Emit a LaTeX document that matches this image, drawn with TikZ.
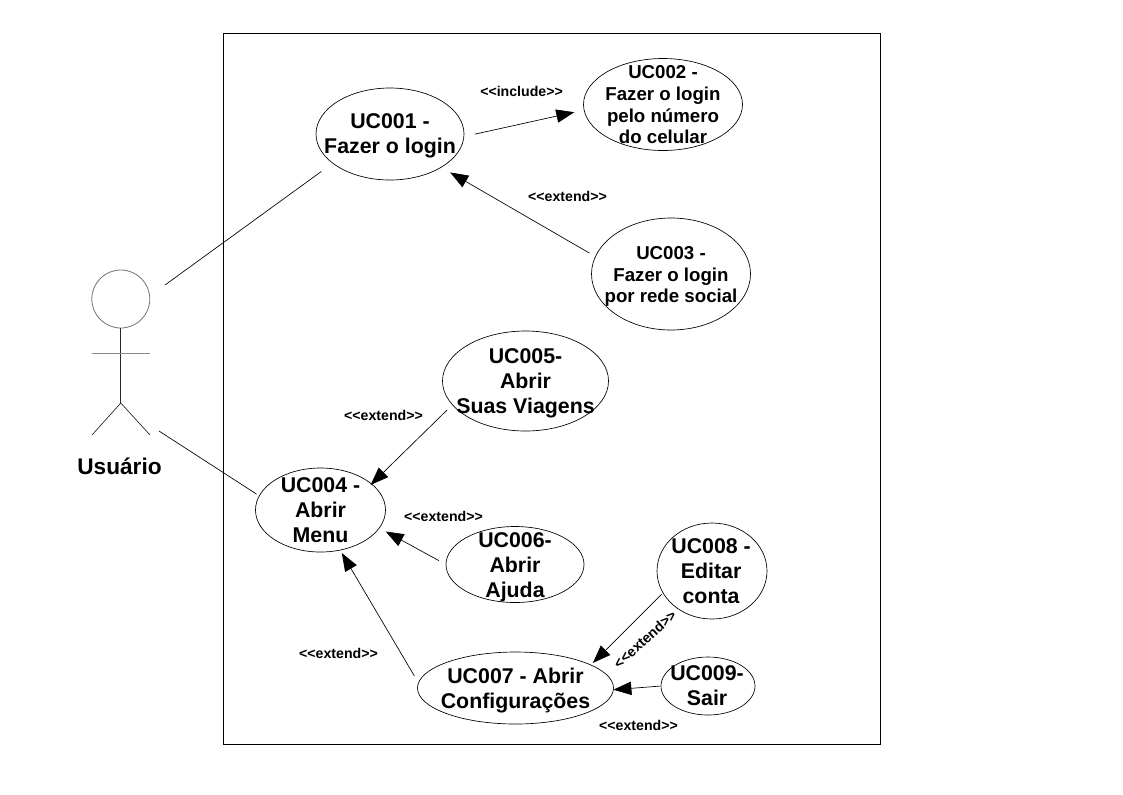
\documentclass[tikz,border=0pt]{standalone}
\usepackage{fontspec}
\setmainfont{Liberation Sans}
\usetikzlibrary{shapes.geometric,arrows.meta}
\newcommand{\stereo}[1]{<\kern0pt<#1>\kern0pt>}
\tikzset{
  uc/.style n args={2}{shape=ellipse,draw=black,line width=0.5pt,inner sep=0pt,outer sep=0pt,
    minimum width=#1*1.5pt,minimum height=#2*1.5pt},
  biglabel/.style={align=center,inner sep=0pt,font=\fontsize{16}{18.75}\selectfont\bfseries},
  midlabel/.style={align=center,inner sep=0pt,font=\fontsize{14}{16.3}\selectfont\bfseries},
  stereotype/.style={inner sep=0pt,font=\fontsize{10.6}{12}\selectfont\bfseries},
  link/.style={line width=0.5pt,draw=black},
  dep/.style={line width=0.5pt,draw=black,-{Triangle[length=13.5pt,width=10pt]}},
  stick/.style={line width=0.5pt,draw=black!85},
  stickgray/.style={line width=0.7pt,draw=black!45}
}
\begin{document}
\begin{tikzpicture}[x=0.75pt,y=-0.75pt]
\useasboundingbox (0,0) rectangle (1123,794);
% system boundary
\node[draw=black,line width=0.6pt,minimum width=493pt,minimum height=533.25pt,inner sep=0pt] (system) at (551.7,389) {};
% use cases
\node[uc={74}{46},label={[biglabel,yshift=-1.6pt]center:UC001 -\\Fazer o login}] (uc1) at (390,134) {};
\node[uc={79.5}{46},label={[midlabel,yshift=-0.2pt]center:UC002 -\\Fazer o login\\pelo número\\do celular}] (uc2) at (663,104.5) {};
\node[uc={79.5}{56},label={[midlabel,yshift=-2pt]center:UC003 -\\Fazer o login\\por rede social}] (uc3) at (671,274) {};
\node[uc={65}{42},label={[biglabel]center:UC004 -\\Abrir\\Menu}] (uc4) at (320.5,510) {};
\node[uc={83}{50},label={[biglabel,yshift=-1.5pt]center:UC005-\\Abrir\\Suas Viagens}] (uc5) at (525.5,381) {};
\node[uc={69}{38},label={[biglabel,yshift=-2pt]center:UC006-\\Abrir\\Ajuda}] (uc6) at (515,564.5) {};
\node[uc={98}{36},label={[biglabel,yshift=-2pt]center:UC007 - Abrir\\Configurações}] (uc7) at (515.5,688) {};
\node[uc={55}{48},label={[biglabel,xshift=-0.7pt]center:UC008 -\\Editar\\conta}] (uc8) at (712,571) {};
\node[uc={47}{29},label={[biglabel,xshift=-0.7pt]center:UC009-\\Sair}] (uc9) at (708,686) {};
% actor
\node[shape=circle,draw=black!55,line width=0.6pt,minimum size=43.5pt,inner sep=0pt,outer sep=0pt] (head) at (120.8,299) {};
\coordinate (hip) at (120.8,403);
\coordinate (armL) at (92,353);
\coordinate (armR) at (150,353);
\coordinate (footL) at (92,435);
\coordinate (footR) at (150,435);
\draw[stick] (head.south) -- (hip);
\draw[stickgray] (armL) -- (armR);
\draw[stick] (footL) -- (hip) -- (footR);
\node[inner sep=0pt,font=\fontsize{17}{20}\selectfont\bfseries] (actor) at (119.5,466) {Usuário};
\coordinate (actorTop) at (165,285);
\coordinate (actorLow) at (159,431);
% connectors
\draw[link,shorten >=10.6pt] (actorTop) -- (uc1.207.8);
\draw[link,shorten >=2.5pt] (actorLow) -- (uc4.167.9);
\draw[dep,shorten <=8.5pt,shorten >=7.5pt] (uc1.358.2) -- (uc2.184.7);
\draw[dep,shorten <=5.2pt,shorten >=7.8pt] (uc3.167.8) -- (uc1.327.9);
\draw[dep,shorten <=5.6pt,shorten >=-1pt] (uc5.198) -- (uc4.27.7);
\draw[dep,shorten <=6pt,shorten >=5.5pt] (uc6.180.3) -- (uc4.343.2);
\draw[dep,shorten <=6pt,shorten >=2.6pt] (uc7.177.6) -- (uc4.296.3);
\draw[dep,shorten <=1.5pt,shorten >=2.2pt] (uc8.204.9) -- (uc7.17);
\draw[dep,shorten <=0.8pt] (uc9.180) -- (uc7.359.5);
% stereotypes
\node[stereotype] (s1) at (521.5,91) {\stereo{include}};
\node[stereotype] (s2) at (567.5,196) {\stereo{extend}};
\node[stereotype] (s3) at (383.5,415) {\stereo{extend}};
\node[stereotype] (s4) at (443.5,516) {\stereo{extend}};
\node[stereotype] (s5) at (338.5,653) {\stereo{extend}};
\node[stereotype,rotate=42] (s6) at (645,639) {\stereo{extend}};
\node[stereotype] (s7) at (638.5,725) {\stereo{extend}};
\end{tikzpicture}
\end{document}
